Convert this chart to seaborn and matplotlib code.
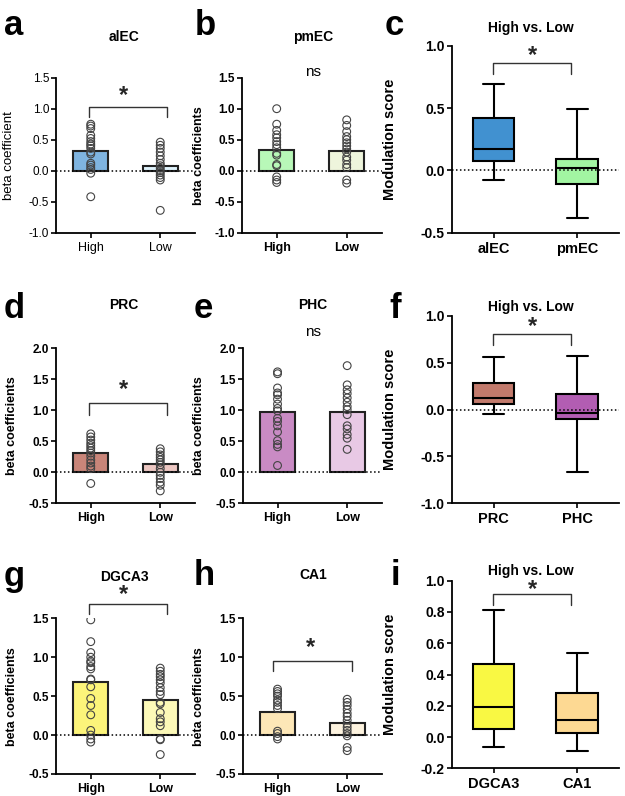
import numpy as np
import pandas as pd
import matplotlib
matplotlib.use("Agg")
import matplotlib.pyplot as plt
import seaborn as sns

# ---------------- data ----------------
cats = ["High", "Low"]

# panel a (alEC)
a_high = [0.75, 0.72, 0.68, 0.57, 0.52, 0.47, 0.43, 0.40, 0.36, 0.30, 0.27, 0.12, 0.09, 0.05, 0.02, -0.04, -0.42]
a_low = [0.46, 0.41, 0.36, 0.30, 0.24, 0.18, 0.12, 0.08, 0.04, 0.0, -0.03, -0.07, -0.11, -0.15, -0.64]
a_bars = [0.31, 0.07]
# panel b (pmEC)
b_high = [1.0, 0.75, 0.65, 0.58, 0.53, 0.47, 0.42, 0.37, 0.28, 0.25, 0.10, 0.08, -0.10, -0.15, -0.19]
b_low = [0.82, 0.73, 0.63, 0.55, 0.50, 0.45, 0.40, 0.35, 0.30, 0.22, 0.17, 0.10, 0.05, -0.15, -0.20]
b_bars = [0.33, 0.32]
# panel d (PRC)
d_high = [0.62, 0.57, 0.52, 0.47, 0.43, 0.39, 0.35, 0.31, 0.26, 0.20, 0.15, 0.10, 0.06, -0.18]
d_low = [0.38, 0.33, 0.28, 0.24, 0.20, 0.16, 0.12, 0.06, 0.0, -0.05, -0.10, -0.16, -0.21, -0.30]
d_bars = [0.31, 0.135]
# panel e (PHC)
e_high = [1.62, 1.59, 1.36, 1.28, 1.25, 1.18, 1.10, 1.03, 0.99, 0.87, 0.82, 0.75, 0.65, 0.51, 0.45, 0.41, 0.11]
e_low = [1.72, 1.41, 1.33, 1.27, 1.20, 1.13, 1.06, 1.01, 0.93, 0.75, 0.70, 0.61, 0.55, 0.37]
e_bars = [0.965, 0.97]
# panel g (DGCA3)
g_high = [1.48, 1.20, 1.06, 1.00, 0.95, 0.93, 0.88, 0.85, 0.72, 0.71, 0.62, 0.47, 0.38, 0.26, 0.06, 0.0, -0.05, -0.09]
g_low = [0.86, 0.82, 0.78, 0.75, 0.71, 0.67, 0.61, 0.56, 0.52, 0.42, 0.40, 0.29, 0.21, 0.17, 0.12, -0.05, -0.06, -0.25]
g_bars = [0.685, 0.445]
# panel h (CA1)
h_high = [0.59, 0.56, 0.53, 0.50, 0.45, 0.42, 0.38, 0.34, 0.05, 0.02, -0.02, -0.05]
h_low = [0.46, 0.42, 0.38, 0.33, 0.28, 0.24, 0.19, 0.14, 0.10, 0.06, 0.02, -0.01, -0.16, -0.20]
h_bars = [0.29, 0.15]

# box panels: [min, q1, median, q3, max]
c_names = ["alEC", "pmEC"]
c_alEC = [-0.08, 0.073, 0.17, 0.42, 0.69]
c_pmEC = [-0.38, -0.11, 0.02, 0.09, 0.49]
f_names = ["PRC", "PHC"]
f_PRC = [-0.05, 0.059, 0.126, 0.28, 0.556]
f_PHC = [-0.67, -0.10, -0.035, 0.165, 0.57]
i_names = ["DGCA3", "CA1"]
i_DGCA3 = [-0.062, 0.049, 0.19, 0.467, 0.81]
i_CA1 = [-0.09, 0.028, 0.107, 0.28, 0.54]

# ---------------- style ----------------
sns.set_theme(style="ticks")
plt.rcParams['font.family'] = ['Liberation Sans', 'DejaVu Sans']
plt.rcParams['axes.unicode_minus'] = False

W, H = 625, 796
fig = plt.figure(figsize=(W / 100, H / 100), dpi=100)


def add_ax(l, r, t, b):
    return fig.add_axes([l / W, 1 - b / H, (r - l) / W, (b - t) / H])


def ftext(x, y, s, **kw):
    fig.text(x / W, 1 - y / H, s, **kw)


def style_axes(ax, yticks, fs, bold, xlabels):
    for sp in ["top", "right"]:
        ax.spines[sp].set_visible(False)
    for sp in ["left", "bottom"]:
        ax.spines[sp].set_linewidth(1.3)
        ax.spines[sp].set_color("black")
    ax.set_yticks(yticks)
    ax.set_yticklabels([f"{v:.1f}" for v in yticks], fontsize=fs,
                       fontweight="bold" if bold else "normal")
    ax.set_xticks([0, 1])
    ax.set_xticklabels(xlabels, fontsize=fs + 0.5, fontweight="bold" if bold else "normal")
    ax.tick_params(axis="y", length=3.5, width=1.2, pad=1.5, color="black", labelcolor="black")
    ax.tick_params(axis="x", length=3.5, width=1.2, pad=3, color="black", labelcolor="black")
    ax.set_xlim(-0.5, 1.5)
    ax.set_xlabel("")
    ax.grid(False)


def bracket(ax, y, ylow, ystar, x0, x1):
    ax.plot([x0, x0, x1, x1], [ylow, y, y, ylow], color="#333333", lw=1.0,
            clip_on=False, zorder=5)
    ax.text(0.47 if x1 > 1 else 0.46, ystar, "*", ha="center", va="center",
            fontsize=17, fontweight="bold", clip_on=False)


def bar_panel(ax, hi, lo, bars, colors, ylim, yticks, bold=True,
              ylabel="beta coefficients", lx=-0.27):
    sns.barplot(x=cats, y=bars, hue=cats, palette=colors, width=0.5,
                saturation=1, edgecolor="#222222", linewidth=1.5, errorbar=None,
                legend=False, ax=ax, zorder=1)
    ax.axhline(0, color="black", ls=(0, (1, 1.6)), lw=1.1, zorder=2)
    df = pd.DataFrame({"g": ["High"] * len(hi) + ["Low"] * len(lo), "v": hi + lo})
    n = len(ax.collections)
    sns.stripplot(data=df, x="g", y="v", order=cats, jitter=False, color="white",
                  edgecolor="#444444", linewidth=0.8, size=5.6, ax=ax, zorder=3)
    for c in ax.collections[n:]:
        c.set_facecolor("none")
    ax.set_ylim(*ylim)
    style_axes(ax, yticks, 8.5, bold, cats)
    ax.set_ylabel(ylabel, fontsize=9 if bold else 9.5,
                  fontweight="bold" if bold else "normal", color="black")
    ax.yaxis.set_label_coords(lx, 0.5)


def box_panel(ax, names, s1, s2, colors, ylim, yticks, zero=True):
    df = pd.DataFrame({"g": [names[0]] * 5 + [names[1]] * 5, "v": s1 + s2})
    sns.boxplot(data=df, x="g", y="v", hue="g", order=names, palette=colors,
                saturation=1, whis=(0, 100), width=0.5, linewidth=1.5,
                linecolor="black", legend=False, ax=ax, zorder=1)
    if zero:
        ax.axhline(0, color="black", ls=(0, (1, 1.6)), lw=1.1, zorder=4)
    ax.set_ylim(*ylim)
    style_axes(ax, yticks, 10, True, names)
    ax.set_ylabel("Modulation score", fontsize=10.5, fontweight="bold", color="black")
    ax.yaxis.set_label_coords(-0.327, 0.5)


# ---------------- row 1 ----------------
ax_a = add_ax(56, 195, 77.7, 232.7)
bar_panel(ax_a, a_high, a_low, a_bars, ["#7fb4e0", "#dff3fc"], (-1.0, 1.5),
          [-1.0, -0.5, 0.0, 0.5, 1.0, 1.5], bold=False, ylabel="beta coefficient", lx=-0.295)
bracket(ax_a, 1.02, 0.86, 1.22, -0.03, 1.09)

ax_b = add_ax(241.7, 381.7, 77.7, 232.7)
bar_panel(ax_b, b_high, b_low, b_bars, ["#b8f8b8", "#eef5dc"], (-1.0, 1.5),
          [-1.0, -0.5, 0.0, 0.5, 1.0, 1.5], lx=-0.262)

ax_c = add_ax(451.7, 619, 45.7, 232.7)
box_panel(ax_c, c_names, c_alEC, c_pmEC, ["#4191d0", "#a2f5a2"], (-0.5, 1.0),
          [-0.5, 0.0, 0.5, 1.0])
bracket(ax_c, 0.86, 0.77, 0.92, -0.01, 0.93)

# ---------------- row 2 ----------------
ax_d = add_ax(56, 195, 348.3, 503.3)
bar_panel(ax_d, d_high, d_low, d_bars, ["#c98579", "#ecc7c2"], (-0.5, 2.0),
          [-0.5, 0.0, 0.5, 1.0, 1.5, 2.0], lx=-0.27)
bracket(ax_d, 1.11, 0.92, 1.34, -0.03, 1.09)

ax_e = add_ax(242.7, 382, 348.3, 503.3)
bar_panel(ax_e, e_high, e_low, e_bars, ["#c98bc4", "#e8c9e5"], (-0.5, 2.0),
          [-0.5, 0.0, 0.5, 1.0, 1.5, 2.0], lx=-0.27)

ax_f = add_ax(451.7, 619, 315.7, 503.3)
box_panel(ax_f, f_names, f_PRC, f_PHC, ["#c27a6c", "#b25db2"], (-1.0, 1.0),
          [-1.0, -0.5, 0.0, 0.5, 1.0])
bracket(ax_f, 0.80, 0.69, 0.88, -0.01, 0.93)

# ---------------- row 3 ----------------
ax_g = add_ax(56, 195, 618.3, 774)
bar_panel(ax_g, g_high, g_low, g_bars, ["#fcf47a", "#fcf9b8"], (-0.5, 1.5),
          [-0.5, 0.0, 0.5, 1.0, 1.5], lx=-0.27)
bracket(ax_g, 1.69, 1.55, 1.80, -0.03, 1.09)

ax_h = add_ax(242.7, 382, 618.3, 774)
bar_panel(ax_h, h_high, h_low, h_bars, ["#fde7b7", "#fdf3df"], (-0.5, 1.5),
          [-0.5, 0.0, 0.5, 1.0, 1.5], lx=-0.27)
bracket(ax_h, 0.955, 0.82, 1.13, -0.06, 1.07)

ax_i = add_ax(451.7, 619, 580.7, 768.3)
box_panel(ax_i, i_names, i_DGCA3, i_CA1, ["#f9f843", "#fdd993"], (-0.2, 1.0),
          [-0.2, 0.0, 0.2, 0.4, 0.6, 0.8, 1.0], zero=False)
bracket(ax_i, 0.913, 0.845, 0.945, -0.01, 0.93)

# ---------------- titles & letters ----------------
tkw = dict(ha="center", va="center", fontweight="bold", color="black")
ftext(124, 37, "alEC", fontsize=10, **tkw)
ftext(313, 37, "pmEC", fontsize=10, **tkw)
ftext(313, 72, "ns", fontsize=11, ha="center", va="center", color="black")
ftext(531, 28, "High vs. Low", fontsize=10, **tkw)
ftext(124, 305, "PRC", fontsize=10, **tkw)
ftext(313, 305, "PHC", fontsize=10, **tkw)
ftext(313, 331.7, "ns", fontsize=11, ha="center", va="center", color="black")
ftext(531, 306.7, "High vs. Low", fontsize=10, **tkw)
ftext(124, 576.7, "DGCA3", fontsize=10, **tkw)
ftext(313, 575, "CA1", fontsize=10, **tkw)
ftext(531, 570.5, "High vs. Low", fontsize=10, **tkw)

lkw = dict(ha="left", va="baseline", fontsize=25, fontweight="bold", color="black")
ftext(4, 35, "a", **lkw)
ftext(195, 35, "b", **lkw)
ftext(385, 35, "c", **lkw)
ftext(4, 318, "d", **lkw)
ftext(194, 318, "e", **lkw)
ftext(389, 318, "f", **lkw)
ftext(4, 586, "g", **lkw)
ftext(194, 585, "h", **lkw)
ftext(391, 585, "i", **lkw)

fig.savefig("out.png", dpi=100, facecolor="white")
